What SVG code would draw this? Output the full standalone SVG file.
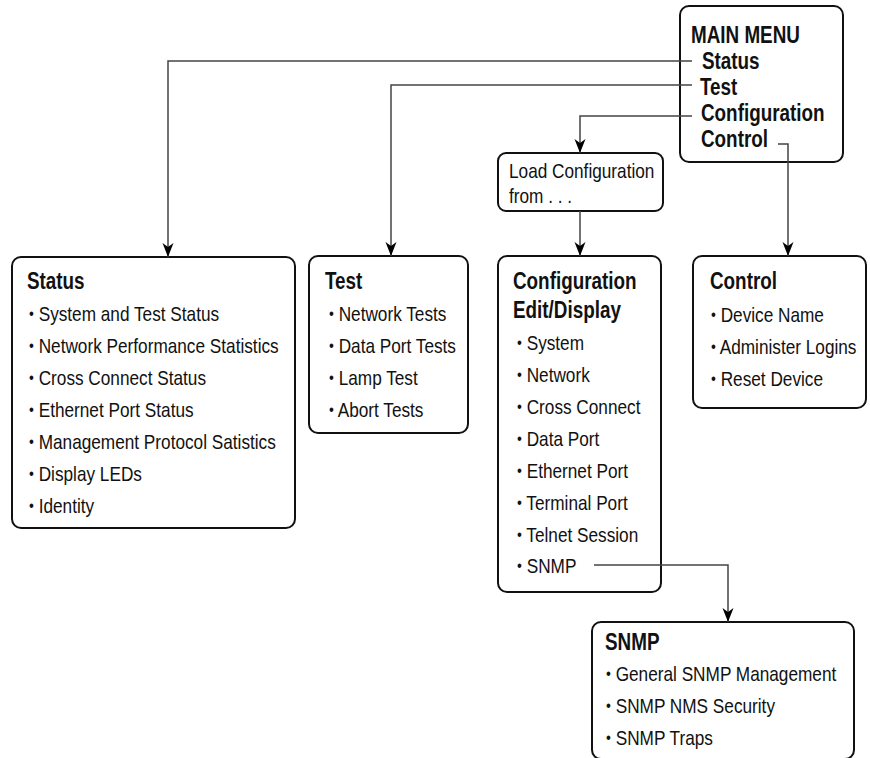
<svg xmlns="http://www.w3.org/2000/svg" width="870" height="758" viewBox="0 0 870 758">
  <style>
    text { font-family: "Liberation Sans", Arial, sans-serif; fill: #111; }
    .box { fill: #fff; stroke: #111; stroke-width: 2; }
    .ttl { font-size: 23px; font-weight: bold; }
    .itm { font-size: 21px; }
    .dot { font-size: 17px; }
    .wire { fill: none; stroke: #444; stroke-width: 1.5; }
  </style>
  <defs>
    <!-- barbed arrowhead, tip at the path end -->
    <marker id="arrow" markerUnits="userSpaceOnUse" markerWidth="16" markerHeight="14" viewBox="-15 -7 16 14" refX="0" refY="0" orient="auto">
      <path d="M0 0 L-14 -5.5 L-10 0 L-14 5.5 Z" fill="#000"/>
    </marker>
  </defs>

  <!-- text is drawn in a narrow cut: each line is compressed horizontally -->
  <g id="main-menu">
    <rect class="box" x="680" y="6" width="163" height="156" rx="9"/>
    <text class="ttl" transform="translate(691 43) scale(0.82 1)">MAIN MENU</text>
    <text class="ttl" transform="translate(702 69) scale(0.82 1)">Status</text>
    <text class="ttl" transform="translate(700 95) scale(0.82 1)">Test</text>
    <text class="ttl" transform="translate(701 121) scale(0.82 1)">Configuration</text>
    <text class="ttl" transform="translate(701 147) scale(0.82 1)">Control</text>
  </g>

  <g id="load-config">
    <rect class="box" x="498" y="153" width="165" height="58" rx="8"/>
    <text class="itm" transform="translate(509 178) scale(0.82 1)">Load Configuration</text>
    <text class="itm" transform="translate(509 203) scale(0.82 1)">from . . .</text>
  </g>

  <g id="status">
    <rect class="box" x="12" y="257" width="283" height="271" rx="9"/>
    <text class="ttl" transform="translate(27 289) scale(0.82 1)">Status</text>
    <text class="itm" transform="translate(29 321) scale(0.82 1)"><tspan class="dot" dy="-2">•</tspan><tspan dy="2"> System and Test Status</tspan></text>
    <text class="itm" transform="translate(29 353) scale(0.82 1)"><tspan class="dot" dy="-2">•</tspan><tspan dy="2"> Network Performance Statistics</tspan></text>
    <text class="itm" transform="translate(29 385) scale(0.82 1)"><tspan class="dot" dy="-2">•</tspan><tspan dy="2"> Cross Connect Status</tspan></text>
    <text class="itm" transform="translate(29 417) scale(0.82 1)"><tspan class="dot" dy="-2">•</tspan><tspan dy="2"> Ethernet Port Status</tspan></text>
    <text class="itm" transform="translate(29 449) scale(0.82 1)"><tspan class="dot" dy="-2">•</tspan><tspan dy="2"> Management Protocol Satistics</tspan></text>
    <text class="itm" transform="translate(29 481) scale(0.82 1)"><tspan class="dot" dy="-2">•</tspan><tspan dy="2"> Display LEDs</tspan></text>
    <text class="itm" transform="translate(29 513) scale(0.82 1)"><tspan class="dot" dy="-2">•</tspan><tspan dy="2"> Identity</tspan></text>
  </g>

  <g id="test">
    <rect class="box" x="309" y="256" width="159" height="177" rx="9"/>
    <text class="ttl" transform="translate(325 289) scale(0.82 1)">Test</text>
    <text class="itm" transform="translate(329 321) scale(0.82 1)"><tspan class="dot" dy="-2">•</tspan><tspan dy="2"> Network Tests</tspan></text>
    <text class="itm" transform="translate(329 353) scale(0.82 1)"><tspan class="dot" dy="-2">•</tspan><tspan dy="2"> Data Port Tests</tspan></text>
    <text class="itm" transform="translate(329 385) scale(0.82 1)"><tspan class="dot" dy="-2">•</tspan><tspan dy="2"> Lamp Test</tspan></text>
    <text class="itm" transform="translate(329 417) scale(0.82 1)"><tspan class="dot" dy="-2">•</tspan><tspan dy="2"> Abort Tests</tspan></text>
  </g>

  <g id="configuration">
    <rect class="box" x="498" y="256" width="163" height="336" rx="9"/>
    <text class="ttl" transform="translate(513 289) scale(0.82 1)">Configuration</text>
    <text class="ttl" transform="translate(513 318) scale(0.82 1)">Edit/Display</text>
    <text class="itm" transform="translate(517 350) scale(0.82 1)"><tspan class="dot" dy="-2">•</tspan><tspan dy="2"> System</tspan></text>
    <text class="itm" transform="translate(517 382) scale(0.82 1)"><tspan class="dot" dy="-2">•</tspan><tspan dy="2"> Network</tspan></text>
    <text class="itm" transform="translate(517 414) scale(0.82 1)"><tspan class="dot" dy="-2">•</tspan><tspan dy="2"> Cross Connect</tspan></text>
    <text class="itm" transform="translate(517 446) scale(0.82 1)"><tspan class="dot" dy="-2">•</tspan><tspan dy="2"> Data Port</tspan></text>
    <text class="itm" transform="translate(517 478) scale(0.82 1)"><tspan class="dot" dy="-2">•</tspan><tspan dy="2"> Ethernet Port</tspan></text>
    <text class="itm" transform="translate(517 510) scale(0.82 1)"><tspan class="dot" dy="-2">•</tspan><tspan dy="2"> Terminal Port</tspan></text>
    <text class="itm" transform="translate(517 542) scale(0.82 1)"><tspan class="dot" dy="-2">•</tspan><tspan dy="2"> Telnet Session</tspan></text>
    <text class="itm" transform="translate(517 573) scale(0.82 1)"><tspan class="dot" dy="-2">•</tspan><tspan dy="2"> SNMP</tspan></text>
  </g>

  <g id="control">
    <rect class="box" x="693" y="256" width="173" height="152" rx="9"/>
    <text class="ttl" transform="translate(710 289) scale(0.82 1)">Control</text>
    <text class="itm" transform="translate(711 322) scale(0.82 1)"><tspan class="dot" dy="-2">•</tspan><tspan dy="2"> Device Name</tspan></text>
    <text class="itm" transform="translate(711 354) scale(0.82 1)"><tspan class="dot" dy="-2">•</tspan><tspan dy="2"> Administer Logins</tspan></text>
    <text class="itm" transform="translate(711 386) scale(0.82 1)"><tspan class="dot" dy="-2">•</tspan><tspan dy="2"> Reset Device</tspan></text>
  </g>

  <g id="snmp">
    <rect class="box" x="592" y="622" width="262" height="137" rx="9"/>
    <text class="ttl" transform="translate(605 650) scale(0.82 1)">SNMP</text>
    <text class="itm" transform="translate(606 681) scale(0.82 1)"><tspan class="dot" dy="-2">•</tspan><tspan dy="2"> General SNMP Management</tspan></text>
    <text class="itm" transform="translate(606 713) scale(0.82 1)"><tspan class="dot" dy="-2">•</tspan><tspan dy="2"> SNMP NMS Security</tspan></text>
    <text class="itm" transform="translate(606 745) scale(0.82 1)"><tspan class="dot" dy="-2">•</tspan><tspan dy="2"> SNMP Traps</tspan></text>
  </g>

  <!-- connectors sit above the boxes so they reach the menu labels -->
  <g id="connectors">
    <path class="wire" d="M692 61 H168 V257" marker-end="url(#arrow)"/>
    <path class="wire" d="M692 85 H391 V256" marker-end="url(#arrow)"/>
    <path class="wire" d="M692 116 H580 V153" marker-end="url(#arrow)"/>
    <path class="wire" d="M580 211 V256" marker-end="url(#arrow)"/>
    <path class="wire" d="M778 144 H788 V256" marker-end="url(#arrow)"/>
    <path class="wire" d="M594 565 H728 V622" marker-end="url(#arrow)"/>
  </g>
</svg>
